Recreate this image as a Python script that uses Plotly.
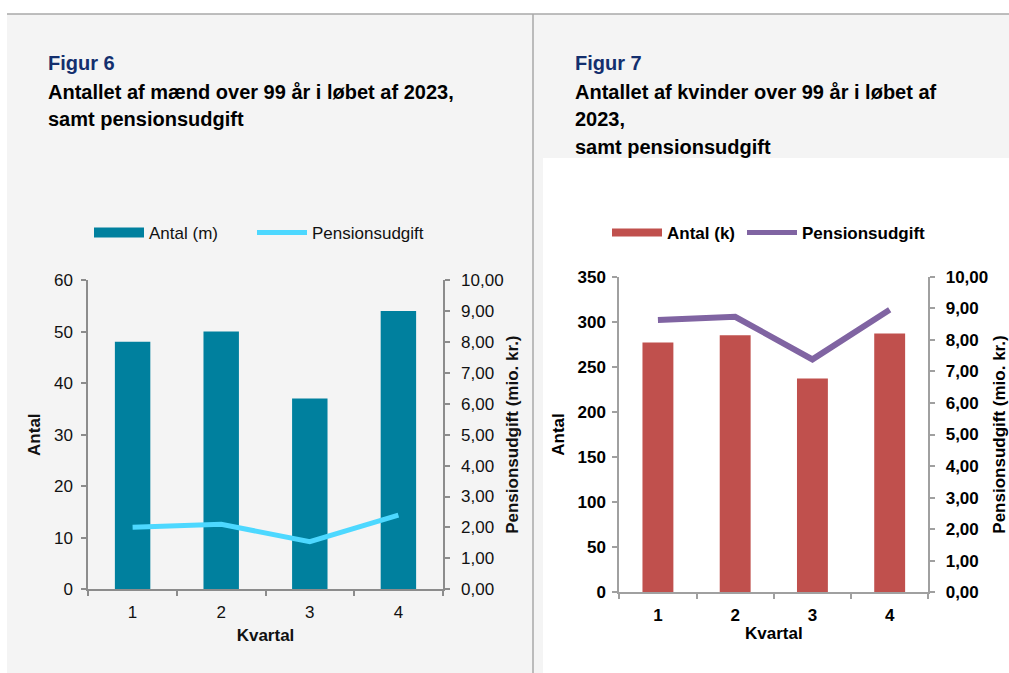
import plotly.graph_objects as go

# ---- data ----
quarters = ["1", "2", "3", "4"]
antal_m = [48, 50, 37, 54]
pension_m = [2.01, 2.10, 1.54, 2.40]
antal_k = [277, 285, 237, 287]
pension_k = [8.63, 8.73, 7.38, 8.95]

W, H = 1009, 673
def px(x): return x / W
def py(y): return 1 - y / H

FONT = "Liberation Sans, Arial, sans-serif"
GREY_BG = "#f4f4f4"
AX = "#8c8c8c"
NAVY = "#132f6e"

fig = go.Figure()

# left chart
fig.add_trace(go.Bar(x=quarters, y=antal_m, marker=dict(color="#00809E", line=dict(width=0)),
                     xaxis="x", yaxis="y", showlegend=False, name="Antal (m)"))
fig.add_trace(go.Scatter(x=quarters, y=pension_m, mode="lines", line=dict(color="#4DD8FF", width=5),
                         xaxis="x", yaxis="y2", showlegend=False, name="Pensionsudgift"))
# legend entries (left)
fig.add_trace(go.Scatter(x=[None], y=[None], mode="lines", line=dict(color="#00809E", width=10),
                         xaxis="x", yaxis="y", name="Antal (m)", legend="legend"))
fig.add_trace(go.Scatter(x=[None], y=[None], mode="lines", line=dict(color="#4DD8FF", width=5),
                         xaxis="x", yaxis="y2", name="Pensionsudgift", legend="legend2"))

# right chart
fig.add_trace(go.Bar(x=quarters, y=antal_k, marker=dict(color="#C0504D", line=dict(width=0)),
                     xaxis="x2", yaxis="y3", showlegend=False, name="Antal (k)"))
fig.add_trace(go.Scatter(x=quarters, y=pension_k, mode="lines", line=dict(color="#8064A2", width=6),
                         xaxis="x2", yaxis="y4", showlegend=False, name="Pensionsudgift"))
fig.add_trace(go.Scatter(x=[None], y=[None], mode="lines", line=dict(color="#C0504D", width=8),
                         xaxis="x2", yaxis="y3", name="Antal (k)", legend="legend3"))
fig.add_trace(go.Scatter(x=[None], y=[None], mode="lines", line=dict(color="#8064A2", width=5),
                         xaxis="x2", yaxis="y4", name="Pensionsudgift", legend="legend4"))

lfont = dict(family=FONT, size=17, color="#111111")
lbold = dict(family=FONT, size=17, color="#111111", weight="bold")
rbold = dict(family=FONT, size=17, color="#000000", weight="bold")

common_ax = dict(showgrid=False, zeroline=False, showline=True, linewidth=2, ticks="outside",
                 ticklen=5, tickwidth=2, automargin=False)

ldom_x = [px(88.3), px(442.7)]
ldom_y = [py(589.3), py(280)]
rdom_x = [px(619.3), px(928.3)]
rdom_y = [py(592.3), py(276.7)]

def leg(x, font):
    return dict(orientation="h", x=px(x), y=py(233), xanchor="left", yanchor="middle",
                bgcolor="rgba(0,0,0,0)", font=font, itemwidth=50)

fig.update_layout(
    template="none",
    width=W, height=H,
    autosize=False,
    margin=dict(l=0, r=0, t=0, b=0, pad=0),
    paper_bgcolor=GREY_BG,
    plot_bgcolor="rgba(0,0,0,0)",
    separators=",.",
    bargap=0.6,
    font=dict(family=FONT),
    xaxis=dict(domain=ldom_x, anchor="y", type="category", tickson="boundaries",
               linecolor=AX, tickcolor=AX, tickfont=lfont, ticklabelstandoff=6,
               title=dict(text="Kvartal", font=lbold, standoff=8), **common_ax),
    yaxis=dict(domain=ldom_y, anchor="x", range=[0, 60], dtick=10,
               linecolor=AX, tickcolor=AX, tickfont=lfont, ticklabelstandoff=5,
               title=dict(text="Antal", font=lbold, standoff=9), **common_ax),
    yaxis2=dict(overlaying="y", anchor="x", side="right", range=[0, 10], dtick=1, tickformat=".2f",
                linecolor=AX, tickcolor=AX, tickfont=lfont, ticklabelstandoff=8,
                title=dict(text="Pensionsudgift (mio. kr.)", font=lbold, standoff=3), **common_ax),
    xaxis2=dict(domain=rdom_x, anchor="y3", type="category", tickson="boundaries",
                linecolor="#a0a0a0", tickcolor="#a0a0a0", tickfont=rbold, ticklabelstandoff=6,
                title=dict(text="Kvartal", font=rbold, standoff=3), **common_ax),
    yaxis3=dict(domain=rdom_y, anchor="x2", range=[0, 350], dtick=50,
                linecolor="#a0a0a0", tickcolor="#a0a0a0", tickfont=rbold, ticklabelstandoff=3,
                title=dict(text="Antal", font=rbold, standoff=9), **common_ax),
    yaxis4=dict(overlaying="y3", anchor="x2", side="right", range=[0, 10], dtick=1, tickformat=".2f",
                linecolor="#a0a0a0", tickcolor="#a0a0a0", tickfont=rbold, ticklabelstandoff=7,
                title=dict(text="Pensionsudgift (mio. kr.)", font=rbold, standoff=8), **common_ax),
    legend=leg(89, lfont),
    legend2=leg(252, lfont),
    legend3=leg(607, rbold),
    legend4=leg(742, rbold),
)

# page decoration
shapes = [
    dict(type="rect", xref="paper", yref="paper", x0=0, x1=1, y0=py(14), y1=1,
         fillcolor="white", line=dict(width=0), layer="below"),
    dict(type="rect", xref="paper", yref="paper", x0=0, x1=px(7), y0=0, y1=1,
         fillcolor="white", line=dict(width=0), layer="below"),
    dict(type="line", xref="paper", yref="paper", x0=px(7), x1=1, y0=py(14), y1=py(14),
         line=dict(color="#a9a9a9", width=1.5), layer="below"),
    dict(type="line", xref="paper", yref="paper", x0=px(533), x1=px(533), y0=0, y1=py(14),
         line=dict(color="#a9a9a9", width=1.5), layer="below"),
    dict(type="rect", xref="paper", yref="paper", x0=px(543), x1=1, y0=0, y1=py(158),
         fillcolor="white", line=dict(width=0), layer="below"),
]
fig.update_layout(shapes=shapes)

tfont = dict(family=FONT, size=20, color="#000000", weight="bold")
nfont = dict(family=FONT, size=20, color=NAVY, weight="bold")
ann = [
    (45.5, 63, "Figur 6", nfont),
    (45.5, 92, "Antallet af mænd over 99 år i løbet af 2023,", tfont),
    (45.5, 119, "samt pensionsudgift", tfont),
    (572.5, 63, "Figur 7", nfont),
    (572.5, 92, "Antallet af kvinder over 99 år i løbet af", tfont),
    (572.5, 119, "2023,", tfont),
    (572.5, 147, "samt pensionsudgift", tfont),
]
for x, y, t, f in ann:
    fig.add_annotation(x=px(x), y=py(y), xref="paper", yref="paper", text=t, showarrow=False,
                       xanchor="left", yanchor="middle", font=f, align="left")

fig.write_html("out.html", config={"responsive": False, "displayModeBar": False},
               post_script="document.body.style.margin='0';document.body.style.overflow='hidden';")
